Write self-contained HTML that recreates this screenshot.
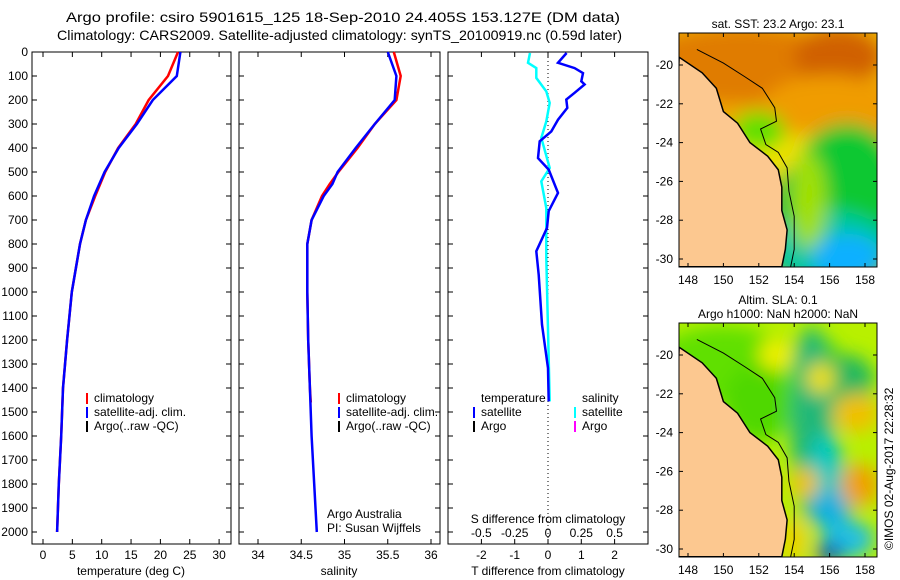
<!DOCTYPE html>
<html><head><meta charset="utf-8"><style>
body{margin:0;background:#fff}
svg{display:block;font-family:"Liberation Sans",sans-serif;font-size:12px}
</style></head><body>
<svg id="c" width="900" height="580" viewBox="0 0 900 580">
<text x="66" y="22" textLength="554" lengthAdjust="spacingAndGlyphs" style="font-size:14px">Argo profile: csiro 5901615_125 18-Sep-2010 24.405S 153.127E (DM data)</text>
<text x="57" y="40" textLength="565" lengthAdjust="spacingAndGlyphs" style="font-size:14px">Climatology: CARS2009. Satellite-adjusted climatology: synTS_20100919.nc (0.59d later)</text>
<g id="g"></g>
</svg>
<script>
const depthsT=[0,100,200,300,400,500,600,700,800,900,1000,1200,1400,1600,1800,2000];
const tempClim=[23.0,21.3,18.0,15.8,12.8,10.6,8.9,7.3,6.3,5.6,4.9,4.1,3.4,3.1,2.7,2.4];
const tempSat=[23.4,22.8,18.7,16.0,12.9,10.5,8.7,7.3,6.3,5.6,4.9,4.1,3.4,3.1,2.7,2.4];
const depthsS=[0,100,200,300,400,500,550,600,700,800,900,1000,1200,1400,1460];
const salClim=[35.57,35.65,35.6,35.35,35.15,34.93,34.83,34.74,34.62,34.57,34.57,34.57,34.58,34.6,34.61];
const depthsS2=[0,100,200,300,400,500,550,600,700,800,900,1000,1200,1400,1600,1800,2000];
const salSat=[35.5,35.6,35.58,35.35,35.13,34.92,34.86,34.76,34.62,34.57,34.57,34.57,34.58,34.6,34.62,34.65,34.68];
const dDepth=[4,45,67,88,122,135,170,198,233,282,331,372,442,490,587,663,733,830,928,1136,1317,1456];
const tDiff=[0.56,0.3,0.8,1.05,1.0,1.1,0.8,0.55,0.58,0.3,0.1,-0.25,-0.3,0.02,0.3,0.02,-0.03,-0.35,-0.28,-0.18,0,0.02];
const sDepth=[4,45,67,108,164,212,289,358,483,539,650,858,1456];
const sDiff=[-0.135,-0.15,-0.0875,-0.0875,-0.0125,0.0125,-0.0125,-0.05,0.0125,-0.05,-0.0125,-0.0125,0.0125];
const depthTicks=[0,100,200,300,400,500,600,700,800,900,1000,1100,1200,1300,1400,1500,1600,1700,1800,1900,2000];
const tTicks=[0,5,10,15,20,25,30];
const sTicks=[34,34.5,35,35.5,36];
const tdTicks=[-2,-1,0,1,2];
const sdTicks=["-0.5","-0.25","0","0.25","0.5"];
const lonTicks=[148,150,152,154,156,158];
const latTicks=[-20,-22,-24,-26,-28,-30];

const NS="http://www.w3.org/2000/svg";
const G=document.getElementById('g');
function mk(tag,at,txt,par){const e=document.createElementNS(NS,tag);for(const k in at)e.setAttribute(k,at[k]);if(txt!==undefined)e.textContent=txt;(par||G).appendChild(e);return e;}
const yD=d=>52+d*0.24;
const P=[{l:32,r:231},{l:239,r:440},{l:448,r:648}];
const xT=t=>43+t*5.87, xS=s=>258+(s-34)*86.5, xTD=v=>548+v*33.3, xSD=v=>548+v*133.2;
P.forEach((p,i)=>{
 const f=mk('rect',{x:p.l,y:52,width:p.r-p.l,height:492,fill:'none',stroke:'#000'});
 
 
 depthTicks.forEach(d=>{
  mk('line',{x1:p.l,x2:p.l+5,y1:yD(d),y2:yD(d),stroke:'#000'});
  mk('line',{x1:p.r,x2:p.r-5,y1:yD(d),y2:yD(d),stroke:'#000'});
  if(i===0){const t=mk('text',{x:28,y:yD(d)+4,'text-anchor':'end'},String(d));
   
   }
 });
});
function xticks(vals,fx,labels,y,ly){vals.forEach((v,k)=>{const x=fx(v);
 mk('line',{x1:x,x2:x,y1:544,y2:539,stroke:'#000'});mk('line',{x1:x,x2:x,y1:52,y2:57,stroke:'#000'});
 const t=mk('text',{x:x,y:ly,'text-anchor':'middle'},labels?labels[k]:String(v));
 
 });}
xticks(tTicks,xT,null,0,559);xticks(sTicks,xS,null,0,559);xticks(tdTicks,xTD,null,0,559);
sdTicks.forEach(s=>{const t=mk('text',{x:xSD(parseFloat(s)),y:537,'text-anchor':'middle'},s);
 
 });
[[131,'temperature (deg C)'],[339,'salinity'],[548,'T difference from climatology']].forEach(([x,s])=>{
 const t=mk('text',{x:x,y:575,'text-anchor':'middle'},s);
 
 });
{const t=mk('text',{x:548,y:523,'text-anchor':'middle'},'S difference from climatology');
 
 }
{const l=mk('line',{x1:548,x2:548,y1:53,y2:544,stroke:'#000','stroke-dasharray':'1,3'});
 
 }
function line(xs,ds,fx,col,name){const pts=xs.map((v,k)=>fx(v).toFixed(1)+','+yD(ds[k]).toFixed(1)).join(' ');
 const e=mk('polyline',{points:pts,fill:'none',stroke:col,'stroke-width':2.5});
 
 }
line(tempClim,depthsT,xT,'#f00','temp-climatology-line');
line(tempSat,depthsT,xT,'#00f','temp-satellite-line');
line(salClim,depthsS,xS,'#f00','sal-climatology-line');
line(salSat,depthsS2,xS,'#00f','sal-satellite-line');
line(sDiff,sDepth,xSD,'#0ff','sal-diff-line');
line(tDiff,dDepth,xTD,'#00f','temp-diff-line');
function leg(x,y,col,s){mk('rect',{x:x,y:y-9,width:2,height:11,fill:col});
 const t=mk('text',{x:x+8,y:y},s);
 
 }
leg(86,402,'#f00','climatology');leg(86,416,'#00f','satellite-adj. clim.');leg(86,430,'#000','Argo(..raw -QC)');
leg(338,402,'#f00','climatology');leg(338,416,'#00f','satellite-adj. clim.');leg(338,430,'#000','Argo(..raw -QC)');
mk('text',{x:481,y:402},'temperature');mk('text',{x:582,y:402},'salinity');
leg(473,416,'#00f','satellite');leg(473,430,'#000','Argo');leg(574,416,'#0ff','satellite');leg(574,430,'#f0f','Argo');
mk('text',{x:327,y:518},'Argo Australia');mk('text',{x:327,y:532},'PI: Susan Wijffels');

// maps
const mx=l=>688+(l-148)*17.7;
function map(top,y20,title,blobs,base,id){
 const my=la=>y20+(-20-la)*19.4;
 const clip=mk('clipPath',{id:'cl'+id});mk('rect',{x:679,y:top,width:198,height:234},undefined,clip);
 const g=mk('g',{'clip-path':'url(#cl'+id+')'});
 
 
 mk('rect',{x:679,y:top,width:198,height:234,fill:base},undefined,g);
 const fl=mk('filter',{id:'bl'+id,x:'-50%',y:'-50%',width:'200%',height:'200%'});mk('feGaussianBlur',{stdDeviation:9},undefined,fl);
 const bg=mk('g',{filter:'url(#bl'+id+')'},undefined,g);
 blobs.forEach(b=>mk('ellipse',{cx:mx(b[0]),cy:my(b[1]),rx:b[2]*17.7,ry:b[3]*19.4,fill:b[4]},undefined,bg));
 const coast=[[147.5,-19.6],[148.8,-20.4],[149.6,-21.2],[150,-22.4],[150.8,-23],[151.5,-24],[152.5,-24.7],[153.1,-25.4],[153.3,-26.3],[153.3,-27.5],[153.6,-28.5],[153.5,-29.5],[153.3,-30.4],[147,-30.4]];
 mk('polygon',{points:coast.map(c=>mx(c[0])+','+my(c[1])).join(' '),fill:'#fcc890',stroke:'#000','stroke-width':1.5},undefined,g);
 const iso=[[148.5,-19.2],[150,-19.9],[151.2,-20.6],[152.2,-21.2],[152.9,-22.2],[153,-22.9],[152.1,-23.3],[152.4,-24.1],[153.1,-24.5],[153.6,-25.3],[153.7,-26.5],[154,-27.8],[154,-29.5],[153.8,-30.4]];
 mk('polyline',{points:iso.map(c=>mx(c[0])+','+my(c[1])).join(' '),fill:'none',stroke:'#000','stroke-width':1},undefined,g);
 mk('rect',{x:679,y:top,width:198,height:234,fill:'none',stroke:'#000'});
 lonTicks.forEach(l=>{mk('line',{x1:mx(l),x2:mx(l),y1:top,y2:top+4,stroke:'#000'});mk('line',{x1:mx(l),x2:mx(l),y1:top+234,y2:top+230,stroke:'#000'});
  const t=mk('text',{x:mx(l),y:top+251,'text-anchor':'middle'},String(l));
  
  });
 latTicks.forEach(la=>{mk('line',{x1:679,x2:683,y1:my(la),y2:my(la),stroke:'#000'});mk('line',{x1:877,x2:873,y1:my(la),y2:my(la),stroke:'#000'});
  const t=mk('text',{x:673,y:my(la)+4,'text-anchor':'end'},String(la));
  
  });
 title.forEach((s,k)=>mk('text',{x:778,y:top-(title.length-k)*14+9,'text-anchor':'middle'},s));
}
map(33,65,['sat. SST: 23.2  Argo: 23.1'],[
 [153,-24,8,5,'#f0a800'],[151,-20,6,2,'#e07c00'],[156.5,-19.6,2.5,1.5,'#d06000'],[156,-22.5,4,2,'#f09c00'],
 [155,-24.8,6,1.2,'#f0e000'],[152,-23.4,1.5,1,'#60e000'],[156.5,-27.5,4,3,'#00c040'],[157,-26,3,3,'#10c830'],
 [156,-29.5,3.5,2,'#00c8a0'],[157,-30,2,1.3,'#10b0ff'],[154.8,-27,1,2.5,'#a0e000']],'#f0b800','sst');
map(323,355,['Altim. SLA: 0.1','Argo h1000: NaN h2000: NaN'],[
 [150,-20.5,4,2,'#60e000'],[152,-22.5,2,2,'#50d800'],[155,-20,1.5,1,'#40d000'],[157,-21.3,1.5,1.3,'#20b860'],
 [155,-23.5,1.2,5,'#20b878'],[155.8,-26,1,2,'#00c8c0'],[156,-28,1.2,1,'#10b0e0'],[157,-29.5,1.5,1,'#20c0e0'],[156,-30.2,0.8,0.5,'#0040c0'],
 [157.7,-26.7,1.1,1.1,'#f0a000'],[157.5,-23,1.3,1,'#f0c000'],[154.6,-26.6,0.8,0.8,'#f0c000'],[155.5,-21.2,0.8,0.8,'#f0e000'],[153,-20,1,0.8,'#f0f000'],[154,-29.5,0.7,1.2,'#f0d000']],'#b8f000','sla');
{const t=mk('text',{x:893,y:550,transform:'rotate(-90 893 550)'},'©IMOS 02-Aug-2017 22:28:32');
 
 }
</script>
</body></html>
